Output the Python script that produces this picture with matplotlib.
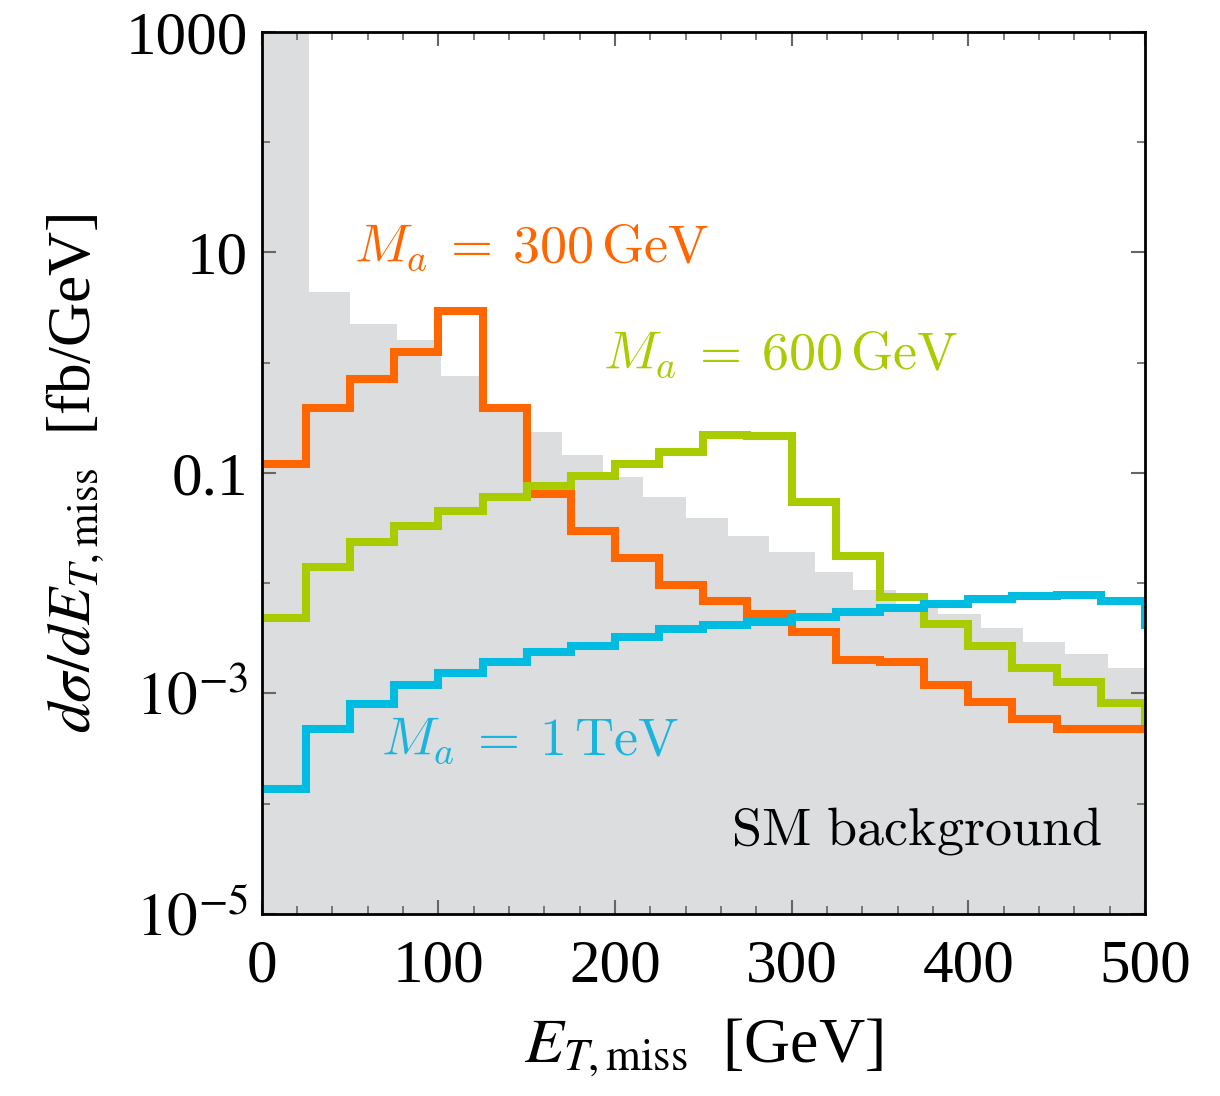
import numpy as np
import matplotlib
matplotlib.use("Agg")
import matplotlib.pyplot as plt
from matplotlib.ticker import FixedLocator, NullFormatter

plt.rcParams['font.family'] = 'serif'
plt.rcParams['font.serif'] = ['Liberation Serif', 'DejaVu Serif']
plt.rcParams['mathtext.fontset'] = 'stix'

# signal histograms: 25 GeV bins (last bin 500-525 lies just outside the frame)
sig_edges = np.arange(0, 526, 25)
orange_vals = [0.121, 0.389, 0.713, 1.26, 2.93, 0.389, 0.0646, 0.030, 0.0168, 0.00964,
               0.00686, 0.00522, 0.00364, 0.00201, 0.00192, 0.00119, 0.000832, 0.000587,
               0.000477, 0.000477, 0.000477]
green_vals = [0.00481, 0.0139, 0.0238, 0.0333, 0.0455, 0.0602, 0.0767, 0.0946, 0.121, 0.156,
              0.221, 0.218, 0.055, 0.0175, 0.00746, 0.00426, 0.00268, 0.00169, 0.00128,
              0.00082, 0.00056]
cyan_vals = [0.000136, 0.000477, 0.000804, 0.00119, 0.00152, 0.00192, 0.00237, 0.00272,
             0.00328, 0.00385, 0.00418, 0.00448, 0.00491, 0.00545, 0.00592, 0.00649,
             0.00720, 0.00771, 0.00782, 0.00695, 0.0042]

# SM background
bkg_edges = [0, 26.8, 49.8, 76.8, 101.4, 125, 149, 170, 193, 216, 240, 264, 287, 313,
             335, 359, 383, 407, 431, 455, 479, 500]
bkg_vals = [3000, 4.4, 2.25, 1.6, 0.76, 0.37, 0.235, 0.146, 0.0914, 0.0602, 0.0388,
            0.027, 0.0193, 0.0126, 0.0087, 0.0065, 0.00526, 0.0039, 0.00291, 0.00228,
            0.00169]

c_orange = '#ff6600'
c_green = '#a8cc00'
c_cyan = '#00bce0'

fig = plt.figure(figsize=(12.2, 10.96), dpi=100)
ax = fig.add_axes([0.2145, 0.166, 0.724, 0.805])

ax.stairs(bkg_vals, bkg_edges, baseline=1e-7, fill=True, color='#dcdddf', zorder=1)
lw = 5.8
ax.stairs(orange_vals, sig_edges, baseline=None, color=c_orange, linewidth=lw, zorder=3)
ax.stairs(green_vals, sig_edges, baseline=None, color=c_green, linewidth=lw, zorder=3)
ax.stairs(cyan_vals, sig_edges, baseline=None, color=c_cyan, linewidth=lw, zorder=3)

ax.set_yscale('log')
ax.set_xlim(0, 500)
ax.set_ylim(1e-5, 1000)

ax.xaxis.set_major_locator(FixedLocator([0, 100, 200, 300, 400, 500]))
ax.xaxis.set_minor_locator(FixedLocator(np.arange(0, 501, 20)))
ax.yaxis.set_major_locator(FixedLocator([1e-5, 1e-3, 0.1, 10, 1000]))
ax.yaxis.set_minor_locator(FixedLocator([1e-4, 1e-2, 1, 100]))
ax.yaxis.set_minor_formatter(NullFormatter())
ax.set_yticklabels(['$10^{-5}$', '$10^{-3}$', '0.1', '10', '1000'])
ax.set_xticklabels(['0', '100', '200', '300', '400', '500'])

ax.tick_params(which='both', direction='in', top=True, right=True, color='#666666',
               labelsize=44)
ax.tick_params(which='major', length=10, width=1.5)
ax.tick_params(which='minor', length=6, width=1.2)
ax.tick_params(axis='x', pad=18)
ax.tick_params(axis='y', pad=10)
for s in ax.spines.values():
    s.set_linewidth(2)
    s.set_zorder(5)

ax.set_xlabel(r'$E_{T,\mathrm{miss}}$  [GeV]', fontsize=46, labelpad=16)
ax.set_ylabel(r'$d\sigma/dE_{T,\mathrm{miss}}$  [fb/GeV]', fontsize=44, labelpad=14)

ax.text(153, 10.8, r'$M_a\: = \:300\,\mathrm{GeV}$', color=c_orange, fontsize=39,
        ha='center', va='center', math_fontfamily='cm', zorder=4)
ax.text(294, 1.15, r'$M_a\: = \:600\,\mathrm{GeV}$', color=c_green, fontsize=39,
        ha='center', va='center', math_fontfamily='cm', zorder=4)
ax.text(152, 3.7e-4, r'$M_a\: = \:1\,\mathrm{TeV}$', color='#1ab4dc', fontsize=39,
        ha='center', va='center', math_fontfamily='cm', zorder=4)
ax.text(371, 5.66e-5, r'$\mathrm{SM\ background}$', color='black', fontsize=39,
        ha='center', va='center', math_fontfamily='cm', zorder=4)

fig.savefig('out.png', dpi=100)
